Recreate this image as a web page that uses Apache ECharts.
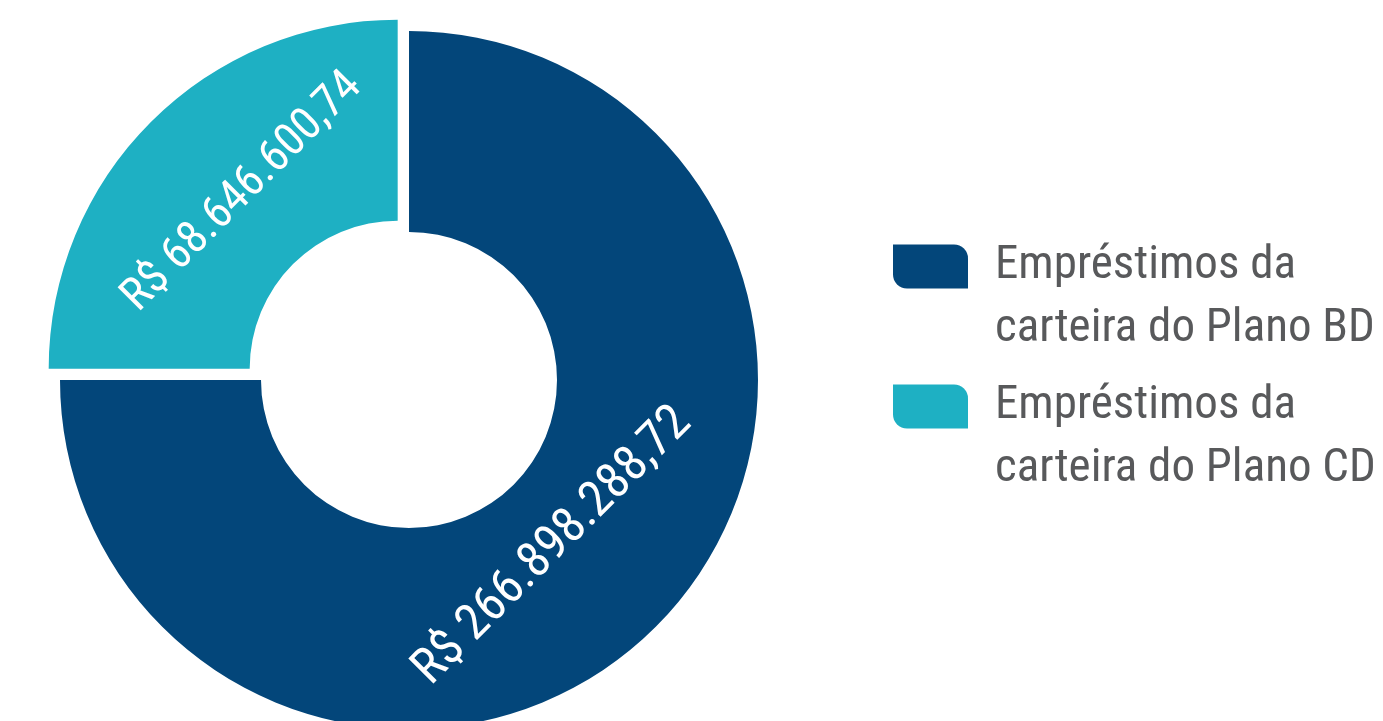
<!DOCTYPE html>
<html>
<head>
<meta charset="utf-8">
<script src="https://cdn.jsdelivr.net/npm/echarts@6/dist/echarts.min.js"></script>
<style>
html,body{margin:0;padding:0;background:#fff;}
#chart{width:1383px;height:721px;}
</style>
</head>
<body>
<div id="chart"></div>
<script>
const categories = ['Empréstimos da\ncarteira do Plano BD', 'Empréstimos da\ncarteira do Plano CD'];
const values = [266898288.72, 68646600.74];
const colors = ['#03467A', '#1EB0C3'];

function brl(v) {
  const parts = v.toFixed(2).split('.');
  const int = parts[0].replace(/\B(?=(\d{3})+(?!\d))/g, '.');
  return 'R$ ' + int + ',' + parts[1];
}

const FONT = '"Roboto Condensed", Roboto, sans-serif';
const chart = echarts.init(document.getElementById('chart'));
const iconPath = 'path://M0,0 L61,0 A14,14 0 0 1 75,14 L75,44 L14,44 A14,14 0 0 1 0,30 Z';

function legendFor(i, top) {
  return {
    data: [categories[i]],
    left: 893,
    top: top,
    padding: 0,
    orient: 'vertical',
    icon: iconPath,
    itemWidth: 75,
    itemHeight: 44,
    selectedMode: false,
    formatter: name => '\n' + name,
    textStyle: {
      color: '#58595B',
      fontFamily: FONT,
      fontSize: 47,
      lineHeight: 63,
      padding: [0, 0, 0, 22]
    }
  };
}

chart.setOption({
  animation: false,
  legend: [legendFor(0, 172), legendFor(1, 312)],
  series: [{
    type: 'pie',
    center: [409, 380],
    radius: [148, 349],
    startAngle: 90,
    clockwise: true,
    minAngle: 90,
    avoidLabelOverlap: false,
    selectedMode: 'single',
    selectedOffset: 16,
    silent: true,
    emphasis: {disabled: true},
    label: {
      show: true,
      position: 'inside',
      rotate: 'tangential',
      color: '#ffffff',
      fontFamily: FONT,
      fontSize: 49,
      formatter: p => brl(values[p.dataIndex])
    },
    labelLayout: p => (p.dataIndex === 0 ? {dx: -16, dy: -32, fontSize: 50} : {dx: 15, dy: 17, fontSize: 46}),
    labelLine: {show: false},
    data: categories.map((c, i) => ({
      name: c,
      value: values[i],
      selected: i === 1,
      itemStyle: {color: colors[i]}
    }))
  }]
});
</script>
</body>
</html>
